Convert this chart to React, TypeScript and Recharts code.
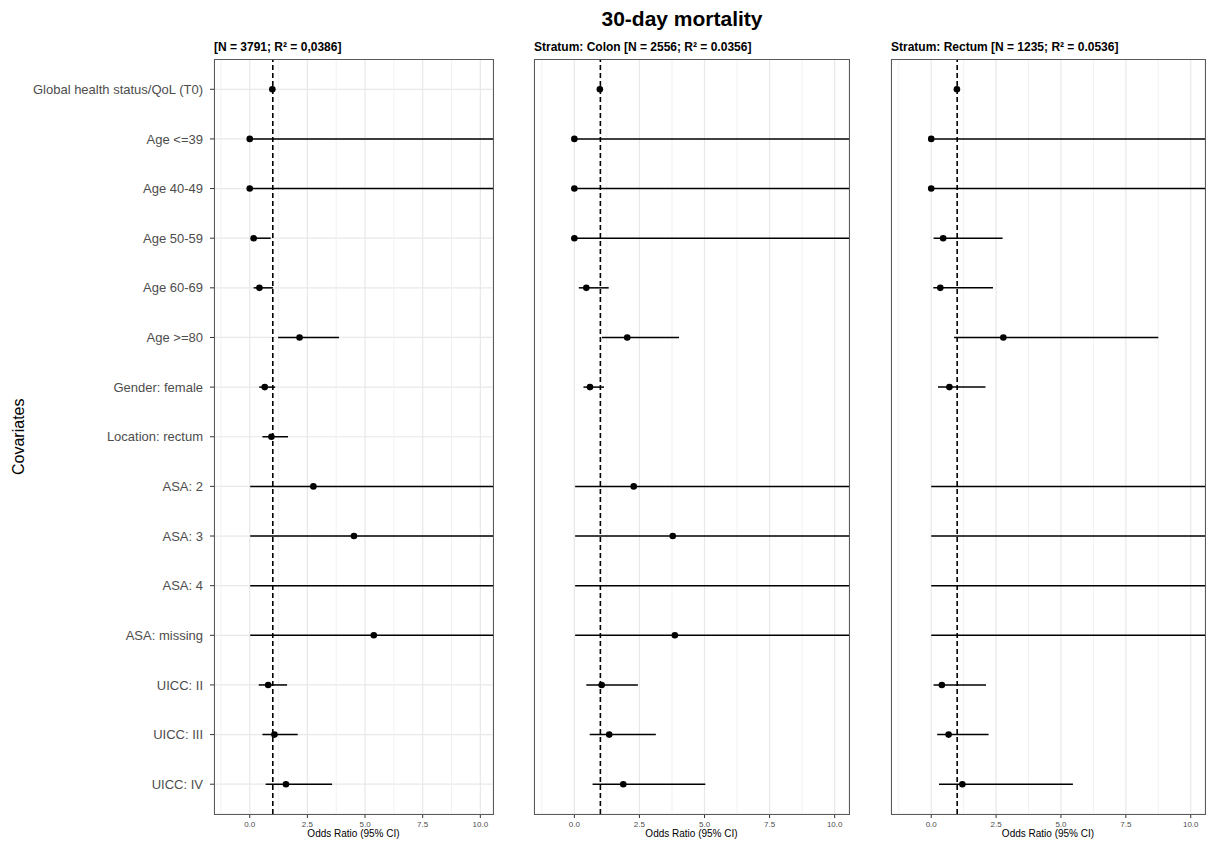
import { ScatterChart, Scatter, XAxis, YAxis, CartesianGrid, ReferenceLine, ErrorBar } from "recharts"

const covariates = [
  "Global health status/QoL (T0)",
  "Age <=39",
  "Age 40-49",
  "Age 50-59",
  "Age 60-69",
  "Age >=80",
  "Gender: female",
  "Location: rectum",
  "ASA: 2",
  "ASA: 3",
  "ASA: 4",
  "ASA: missing",
  "UICC: II",
  "UICC: III",
  "UICC: IV",
]

// odds ratio and 95% CI per covariate; null = not in model
const overallEst = [0.98, 0.0, 0.0, 0.17, 0.42, 2.16, 0.65, 0.94, 2.76, 4.52, 14, 5.38, 0.8, 1.07, 1.57]
const overallLo = [0.97, 0.0, 0.0, 0.05, 0.17, 1.23, 0.41, 0.55, 0.02, 0.02, 0.02, 0.02, 0.39, 0.55, 0.69]
const overallHi = [0.99, 50, 50, 0.91, 1.01, 3.87, 1.1, 1.66, 50, 50, 50, 50, 1.62, 2.08, 3.57]

const colonEst = [0.98, 0.0, 0.0, 0.0, 0.46, 2.03, 0.6, null, 2.28, 3.78, 14, 3.86, 1.05, 1.34, 1.88]
const colonLo = [0.97, 0.0, 0.0, 0.0, 0.17, 1.06, 0.35, null, 0.03, 0.03, 0.03, 0.03, 0.46, 0.59, 0.7]
const colonHi = [0.99, 50, 50, 50, 1.32, 4.02, 1.14, null, 50, 50, 50, 50, 2.44, 3.13, 5.03]

const rectumEst = [0.99, 0.0, 0.0, 0.46, 0.35, 2.78, 0.7, null, 14, 14, 14, 14, 0.41, 0.67, 1.2]
const rectumLo = [0.98, 0.0, 0.0, 0.09, 0.08, 0.88, 0.26, null, 0.0, 0.0, 0.0, 0.0, 0.09, 0.23, 0.3]
const rectumHi = [1.0, 50, 50, 2.75, 2.38, 8.75, 2.09, null, 50, 50, 50, 50, 2.11, 2.21, 5.46]

const xTicks = [0, 2.5, 5, 7.5, 10]
const xMinor = [-1.25, 1.25, 3.75, 6.25, 8.75]
const rowTicks = covariates.map((_, i) => i + 1)

const X_DOMAIN: [number, number] = [-1.55, 10.55]
const Y_DOMAIN: [number, number] = [0.4, 15.6]
const H = 853
const TOP = 59.5
const PLOT_H = 754.5
const BORDER = "#5a5a5a"

function buildRows(est: (number | null)[], lo: (number | null)[], hi: (number | null)[]) {
  return covariates.flatMap((name, i) => {
    const e = est[i]
    if (e == null) return []
    return [{ name, y: i + 1, x: e, err: [e - (lo[i] as number), (hi[i] as number) - e] }]
  })
}

const dot = (p: any) => <circle cx={p.cx} cy={p.cy} r={3.3} fill="#000" />

function Panel(props: {
  left: number
  axisWidth: number
  plotWidth: number
  title: string
  rows: any[]
  first?: boolean
}) {
  const { left, axisWidth, plotWidth, title, rows, first } = props
  // plot area runs to the svg edge so the open-ended CIs are cut at the panel border
  const width = axisWidth + plotWidth
  return (
    <div style={{ position: "absolute", left, top: 0, width, height: H }}>
      <div
        style={{
          position: "absolute",
          left: axisWidth,
          top: 39.5,
          fontSize: 12,
          lineHeight: "14px",
          fontWeight: "bold",
          whiteSpace: "nowrap",
          color: "#000",
        }}
      >
        {title}
      </div>
      <ScatterChart width={width} height={H} margin={{ top: TOP, right: 0, bottom: 0, left: 0 }}>
        <CartesianGrid stroke="#e8e8e8" strokeWidth={1.2} />
        {xMinor.map((v) => (
          <ReferenceLine key={v} x={v} stroke="#f1f1f1" strokeWidth={1} />
        ))}
        <XAxis
          type="number"
          dataKey="x"
          domain={X_DOMAIN}
          allowDataOverflow
          ticks={xTicks}
          interval={0}
          tickFormatter={(v: number) => v.toFixed(1)}
          height={H - TOP - PLOT_H}
          tickSize={4}
          tickMargin={3}
          tick={{ fill: "#4d4d4d", fontSize: 8 }}
          axisLine={false}
          tickLine={{ stroke: "#333" }}
          label={{ value: "Odds Ratio (95% CI)", position: "insideBottom", offset: 16, fill: "#000", fontSize: 10 }}
        />
        <YAxis
          type="number"
          dataKey="y"
          domain={Y_DOMAIN}
          allowDataOverflow
          reversed
          ticks={rowTicks}
          interval={0}
          width={axisWidth}
          tickSize={4}
          tickMargin={7}
          tick={first ? { fill: "#4d4d4d", fontSize: 13 } : false}
          tickFormatter={(v: number) => covariates[v - 1]}
          axisLine={false}
          tickLine={{ stroke: "#333" }}
          label={
            first
              ? {
                  value: "Covariates",
                  angle: -90,
                  position: "insideLeft",
                  offset: 18,
                  fill: "#000",
                  fontSize: 16,
                  style: { textAnchor: "middle" },
                }
              : undefined
          }
        />
        <ReferenceLine x={1} stroke="#000" strokeWidth={1.6} strokeDasharray="5 3" />
        <Scatter data={rows} isAnimationActive={false} shape={dot}>
          <ErrorBar dataKey="err" direction="x" width={0} stroke="#000" strokeWidth={1.5} isAnimationActive={false} />
        </Scatter>
      </ScatterChart>
      <div
        style={{
          position: "absolute",
          left: axisWidth - 0.5,
          top: TOP - 0.5,
          width: plotWidth + 1,
          height: PLOT_H + 1,
          border: `1px solid ${BORDER}`,
          boxSizing: "border-box",
          pointerEvents: "none",
        }}
      />
    </div>
  )
}

export default function App() {
  return (
    <div
      style={{
        position: "absolute",
        left: 0,
        top: 0,
        width: 1210,
        height: H,
        background: "#fff",
        fontFamily: "'Liberation Sans', Arial, sans-serif",
      }}
    >
      <div
        style={{
          position: "absolute",
          left: 482,
          top: 6.7,
          width: 400,
          textAlign: "center",
          fontSize: 21,
          lineHeight: "24px",
          fontWeight: "bold",
          color: "#000",
        }}
      >
        30-day mortality
      </div>
      <Panel
        left={0}
        axisWidth={214}
        plotWidth={279}
        title="[N = 3791; R² = 0,0386]"
        rows={buildRows(overallEst, overallLo, overallHi)}
        first
      />
      <Panel
        left={500}
        axisWidth={34}
        plotWidth={315}
        title="Stratum: Colon [N = 2556; R² = 0.0356]"
        rows={buildRows(colonEst, colonLo, colonHi)}
      />
      <Panel
        left={860}
        axisWidth={31}
        plotWidth={314}
        title="Stratum: Rectum [N = 1235; R² = 0.0536]"
        rows={buildRows(rectumEst, rectumLo, rectumHi)}
      />
    </div>
  )
}
